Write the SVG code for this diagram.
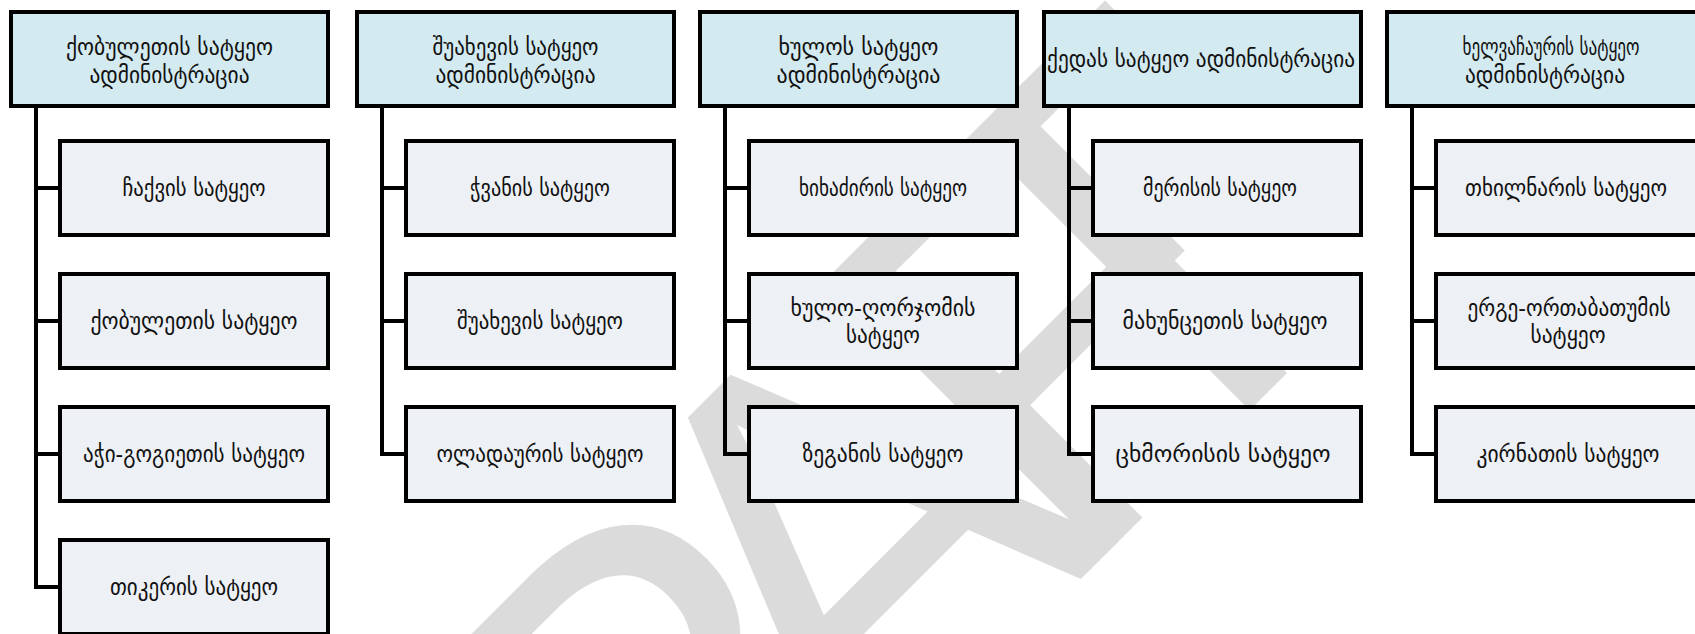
<svg xmlns="http://www.w3.org/2000/svg" width="1695" height="634" viewBox="0 0 1695 634">
<style>
.top{fill:#d3eaf0;stroke:#000;stroke-width:4}
.leaf{fill:#edf0f5;stroke:#000;stroke-width:4}
.t{font-family:"DejaVu Sans",sans-serif;font-size:23px;fill:#111;text-anchor:middle}
.c{fill:none;stroke:#000;stroke-width:4}
.wm{font-family:"Liberation Sans",Arial,sans-serif;font-size:570px;fill:#dbdbdb}
</style>
<rect width="1695" height="634" fill="#fff"/>
<g id="watermark"><text class="wm" transform="translate(830,830) rotate(-45)" x="-685 -265 30 342 446" y="0">DRAFT</text></g>
<g id="connectors">
<path class="c" d="M36,108V587H58M36,188H58M36,321H58M36,454H58"/>
<path class="c" d="M382,108V454H404M382,188H404M382,321H404"/>
<path class="c" d="M725,108V454H747M725,188H747M725,321H747"/>
<path class="c" d="M1069,108V454H1091M1069,188H1091M1069,321H1091"/>
<path class="c" d="M1412,108V454H1434M1412,188H1434M1412,321H1434"/>
</g>
<g id="n1"><rect class="top" x="11" y="12" width="317" height="94"/><text class="t" x="169.5" y="55" textLength="207" lengthAdjust="spacingAndGlyphs">ქობულეთის სატყეო</text><text class="t" x="169.5" y="83" textLength="160" lengthAdjust="spacingAndGlyphs">ადმინისტრაცია</text></g>
<g id="n1a"><rect class="leaf" x="60" y="141" width="268" height="94"/><text class="t" x="194" y="196" textLength="143" lengthAdjust="spacingAndGlyphs">ჩაქვის სატყეო</text></g>
<g id="n1b"><rect class="leaf" x="60" y="274" width="268" height="94"/><text class="t" x="194" y="329" textLength="207" lengthAdjust="spacingAndGlyphs">ქობულეთის სატყეო</text></g>
<g id="n1c"><rect class="leaf" x="60" y="407" width="268" height="94"/><text class="t" x="194" y="462" textLength="222" lengthAdjust="spacingAndGlyphs">აჭი-გოგიეთის სატყეო</text></g>
<g id="n1d"><rect class="leaf" x="60" y="540" width="268" height="94"/><text class="t" x="194" y="595" textLength="168" lengthAdjust="spacingAndGlyphs">თიკერის სატყეო</text></g>
<g id="n2"><rect class="top" x="357" y="12" width="317" height="94"/><text class="t" x="515.5" y="55" textLength="166" lengthAdjust="spacingAndGlyphs">შუახევის სატყეო</text><text class="t" x="515.5" y="83" textLength="160" lengthAdjust="spacingAndGlyphs">ადმინისტრაცია</text></g>
<g id="n2a"><rect class="leaf" x="406" y="141" width="268" height="94"/><text class="t" x="540" y="196" textLength="140" lengthAdjust="spacingAndGlyphs">ჭვანის სატყეო</text></g>
<g id="n2b"><rect class="leaf" x="406" y="274" width="268" height="94"/><text class="t" x="540" y="329" textLength="166" lengthAdjust="spacingAndGlyphs">შუახევის სატყეო</text></g>
<g id="n2c"><rect class="leaf" x="406" y="407" width="268" height="94"/><text class="t" x="540" y="462" textLength="207" lengthAdjust="spacingAndGlyphs">ოლადაურის სატყეო</text></g>
<g id="n3"><rect class="top" x="700" y="12" width="317" height="94"/><text class="t" x="858.5" y="55" textLength="160" lengthAdjust="spacingAndGlyphs">ხულოს სატყეო</text><text class="t" x="858.5" y="83" textLength="164" lengthAdjust="spacingAndGlyphs">ადმინისტრაცია</text></g>
<g id="n3a"><rect class="leaf" x="749" y="141" width="268" height="94"/><text class="t" x="883" y="196" textLength="168" lengthAdjust="spacingAndGlyphs">ხიხაძირის სატყეო</text></g>
<g id="n3b"><rect class="leaf" x="749" y="274" width="268" height="94"/><text class="t" x="883" y="316" textLength="185" lengthAdjust="spacingAndGlyphs">ხულო-ღორჯომის</text><text class="t" x="883" y="343" textLength="74" lengthAdjust="spacingAndGlyphs">სატყეო</text></g>
<g id="n3c"><rect class="leaf" x="749" y="407" width="268" height="94"/><text class="t" x="883" y="462" textLength="161" lengthAdjust="spacingAndGlyphs">ზეგანის სატყეო</text></g>
<g id="n4"><rect class="top" x="1044" y="12" width="317" height="94"/><text class="t" x="1201" y="67" textLength="308" lengthAdjust="spacingAndGlyphs">ქედას სატყეო ადმინისტრაცია</text></g>
<g id="n4a"><rect class="leaf" x="1093" y="141" width="268" height="94"/><text class="t" x="1220" y="196" textLength="154" lengthAdjust="spacingAndGlyphs">მერისის სატყეო</text></g>
<g id="n4b"><rect class="leaf" x="1093" y="274" width="268" height="94"/><text class="t" x="1225" y="329" textLength="205" lengthAdjust="spacingAndGlyphs">მახუნცეთის სატყეო</text></g>
<g id="n4c"><rect class="leaf" x="1093" y="407" width="268" height="94"/><text class="t" x="1223" y="462" textLength="215" lengthAdjust="spacingAndGlyphs">ცხმორისის სატყეო</text></g>
<g id="n5"><rect class="top" x="1387" y="12" width="317" height="94"/><text class="t" x="1551" y="55" textLength="177" lengthAdjust="spacingAndGlyphs">ხელვაჩაურის სატყეო</text><text class="t" x="1545" y="83" textLength="160" lengthAdjust="spacingAndGlyphs">ადმინისტრაცია</text></g>
<g id="n5a"><rect class="leaf" x="1436" y="141" width="268" height="94"/><text class="t" x="1566" y="196" textLength="202" lengthAdjust="spacingAndGlyphs">თხილნარის სატყეო</text></g>
<g id="n5b"><rect class="leaf" x="1436" y="274" width="268" height="94"/><text class="t" x="1569" y="316" textLength="203" lengthAdjust="spacingAndGlyphs">ერგე-ორთაბათუმის</text><text class="t" x="1568" y="343" textLength="75" lengthAdjust="spacingAndGlyphs">სატყეო</text></g>
<g id="n5c"><rect class="leaf" x="1436" y="407" width="268" height="94"/><text class="t" x="1568" y="462" textLength="183" lengthAdjust="spacingAndGlyphs">კირნათის სატყეო</text></g>
</svg>
